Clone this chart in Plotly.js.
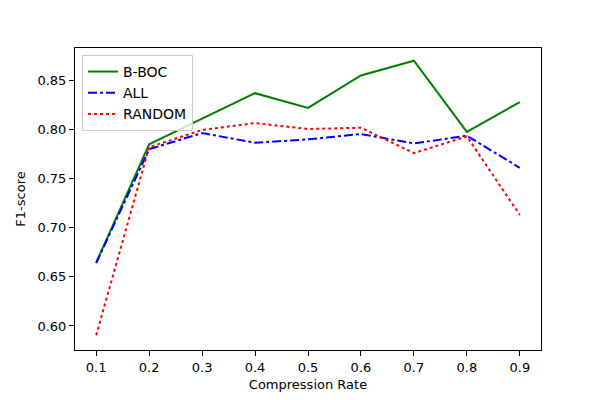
<!DOCTYPE html>
<html><head><meta charset="utf-8">
<script src="https://cdn.plot.ly/plotly-3.0.1.min.js"></script>
<style>body{margin:0;padding:0;background:#fff}#c{width:600px;height:400px}</style>
</head><body><div id="c"></div>
<script>
var rates = [0.1, 0.2, 0.3, 0.4, 0.5, 0.6, 0.7, 0.8, 0.9];
var bboc = [0.6645, 0.785, 0.811, 0.837, 0.822, 0.855, 0.870, 0.7975, 0.828];
var allS = [0.664, 0.780, 0.7964, 0.7865, 0.790, 0.7954, 0.7858, 0.7937, 0.761];
var randomS = [0.5905, 0.782, 0.7995, 0.8066, 0.8005, 0.8018, 0.776, 0.793, 0.713];
var yTicks = [0.60, 0.65, 0.70, 0.75, 0.80, 0.85];

var font = {family: 'DejaVu Sans, sans-serif', size: 13, color: '#000'};
var legendFont = {family: 'DejaVu Sans, sans-serif', size: 14, color: '#000'};
var traces = [
  {x: rates, y: bboc, name: 'B-BOC', mode: 'lines', line: {color: 'green', width: 2, dash: 'solid'}},
  {x: rates, y: allS, name: 'ALL', mode: 'lines', line: {color: 'blue', width: 2, dash: 'dashdot'}},
  {x: rates, y: randomS, name: 'RANDOM', mode: 'lines', line: {color: 'red', width: 2, dash: 'dot'}}
];
var axisCommon = {showline: true, mirror: true, linecolor: '#000', linewidth: 1, ticks: 'outside', ticklen: 5, tickwidth: 1, tickcolor: '#000', showgrid: false, zeroline: false, tickfont: font};
var layout = {
  width: 600, height: 400,
  margin: {l: 75, r: 59, t: 48, b: 50},
  paper_bgcolor: '#fff', plot_bgcolor: '#fff',
  font: font,
  showlegend: true,
  legend: {x: 0.015, y: 0.977, xanchor: 'left', yanchor: 'top', bordercolor: '#cccccc', borderwidth: 1, bgcolor: 'rgba(255,255,255,0.8)', font: legendFont, tracegroupgap: 0},
  xaxis: Object.assign({}, axisCommon, {range: [0.06, 0.94], tickvals: rates, tickformat: '.1f', title: {text: 'Compression Rate', font: font, standoff: 6}}),
  yaxis: Object.assign({}, axisCommon, {range: [0.5755, 0.883], tickvals: yTicks, tickformat: '.2f', title: {text: 'F1-score', font: font, standoff: 8}})
};
Plotly.newPlot('c', traces, layout, {displayModeBar: false, staticPlot: true});
</script></body></html>
